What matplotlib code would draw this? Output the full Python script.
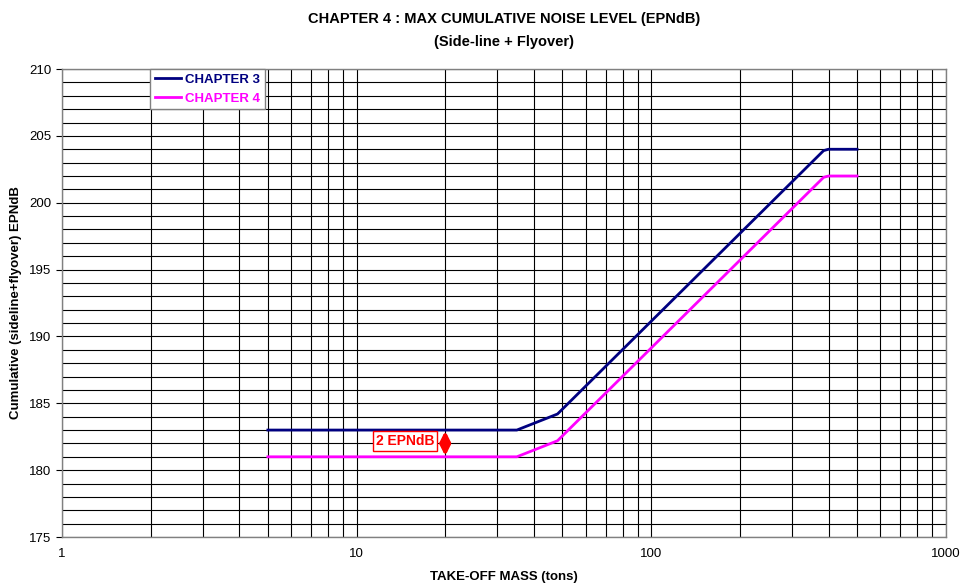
import numpy as np
import matplotlib
matplotlib.use("Agg")
import matplotlib.pyplot as plt
from matplotlib.ticker import LogLocator, FixedLocator, MultipleLocator, NullFormatter

# take-off mass (tons) and cumulative noise limits
mass = [5, 35, 48.1, 385, 400, 500]
chapter3 = [183, 183, 184.2, 203.9, 204, 204]
chapter4 = [181, 181, 182.2, 201.9, 202, 202]

x_ticks = [1, 10, 100, 1000]
x_tick_labels = ["1", "10", "100", "1000"]

plt.rcParams['font.family'] = ['Liberation Sans Narrow', 'Liberation Sans', 'DejaVu Sans']

fig = plt.figure(figsize=(9.68, 5.85), dpi=100)
ax = fig.add_axes([0.064, 0.082, 0.913, 0.800])

ax.set_xscale('log')
ax.set_xlim(1, 1000)
ax.set_ylim(175, 210)

ax.xaxis.set_major_locator(FixedLocator(x_ticks))
ax.set_xticklabels(x_tick_labels)
ax.xaxis.set_minor_locator(LogLocator(base=10, subs=np.arange(2, 10)))
ax.xaxis.set_minor_formatter(NullFormatter())
ax.yaxis.set_major_locator(MultipleLocator(5))
ax.yaxis.set_minor_locator(MultipleLocator(1))

ax.grid(True, which='both', color='black', linewidth=0.8)
ax.set_axisbelow(True)
ax.tick_params(axis='x', which='both', length=0, pad=8, labelsize=9.5)
ax.tick_params(axis='y', which='major', length=4, labelsize=9.5)
ax.tick_params(axis='y', which='minor', length=0)
for s in ax.spines.values():
    s.set_color('#808080')
    s.set_linewidth(1)

ax.plot(mass, chapter3, color='#000080', lw=2, label='CHAPTER 3')
ax.plot(mass, chapter4, color='#FF00FF', lw=2, label='CHAPTER 4')

leg = ax.legend(loc='upper left', bbox_to_anchor=(0.1, 1.0), fancybox=False,
                edgecolor='#808080', framealpha=1, handlelength=2.0, handletextpad=0.3,
                borderpad=0.35, labelspacing=0.5, borderaxespad=0,
                prop={'weight': 'bold', 'size': 9.5})
leg.get_frame().set_linewidth(1)
for t, c in zip(leg.get_texts(), ['#000080', '#FF00FF']):
    t.set_color(c)

# 2 EPNdB gap marker
ax.annotate('', xy=(20, 180.85), xytext=(20, 183.15),
            arrowprops=dict(arrowstyle='<|-|>', color='red', lw=3, mutation_scale=14))
ax.text(14.6, 182.2, '2 EPNdB', color='red', fontsize=10, fontweight='bold',
        ha='center', va='center',
        bbox=dict(boxstyle='square,pad=0.2', fc='white', ec='red', lw=1))

fig.text(0.521, 0.967, 'CHAPTER 4 : MAX CUMULATIVE NOISE LEVEL (EPNdB)', ha='center', va='center',
         fontsize=10.5, fontweight='bold')
fig.text(0.521, 0.928, '(Side-line + Flyover)', ha='center', va='center',
         fontsize=10.5, fontweight='bold')
ax.set_xlabel('TAKE-OFF MASS (tons)', fontsize=9.5, fontweight='bold', labelpad=8)
fig.text(0.017, 0.482, 'Cumulative (sideline+flyover) EPNdB', rotation=90, ha='center', va='center',
         fontsize=9.5, fontweight='bold')

fig.savefig('out.png', dpi=100)
